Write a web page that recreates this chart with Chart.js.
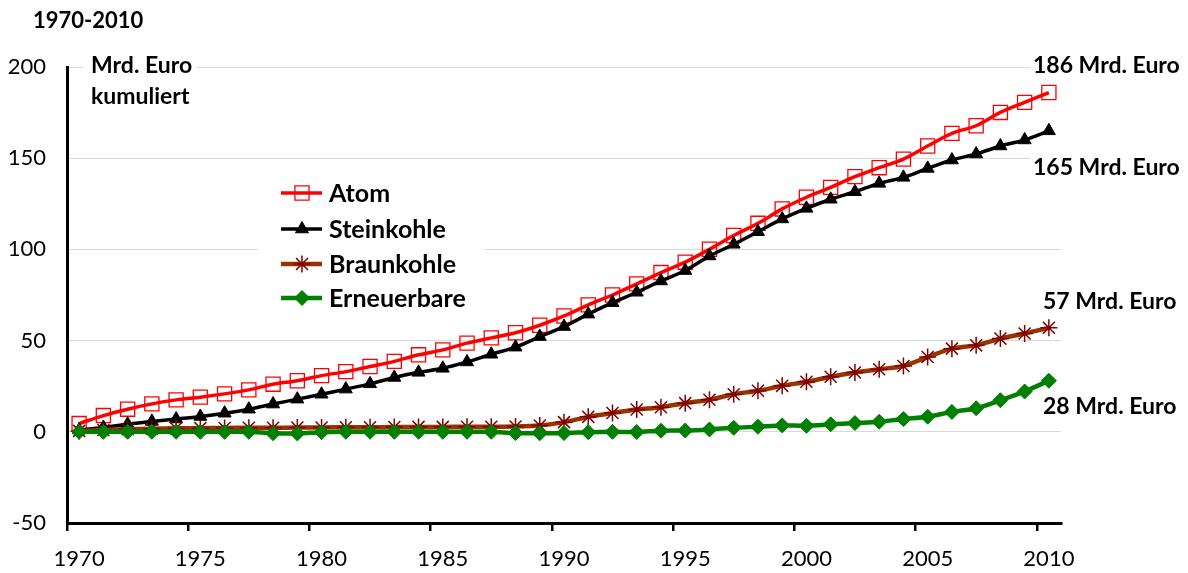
<!DOCTYPE html>
<html>
<head>
<meta charset="utf-8">
<script src="https://cdn.jsdelivr.net/npm/chart.js@4/dist/chart.umd.min.js"></script>
<style>
  body { margin: 0; background: #fff; }
  #wrap { width: 1188px; height: 573px; }
</style>
</head>
<body>
<div id="wrap"><canvas id="kosten-chart" width="1188" height="573"></canvas></div>
<script>
// Kumulierte Kosten 1970-2010, Mrd. Euro
var years = ['1970','1971','1972','1973','1974','1975','1976','1977','1978','1979',
  '1980','1981','1982','1983','1984','1985','1986','1987','1988','1989',
  '1990','1991','1992','1993','1994','1995','1996','1997','1998','1999',
  '2000','2001','2002','2003','2004','2005','2006','2007','2008','2009','2010'];

var atom = [4.5, 8.9, 12.4, 15.3, 17.5, 19.0, 20.8, 23.0, 26.1, 28.0,
  30.8, 33.0, 35.8, 38.6, 42.2, 44.9, 48.6, 51.5, 54.3, 58.4,
  63.5, 69.6, 75.0, 81.1, 87.3, 93.0, 100.1, 107.6, 114.3, 122.2,
  128.6, 134.0, 139.9, 144.8, 149.5, 156.7, 163.6, 167.8, 175.1, 180.6, 186];

var steinkohle = [1.0, 2.4, 4.2, 5.7, 7.0, 8.4, 10.2, 12.4, 15.2, 17.9,
  20.6, 23.4, 26.3, 29.8, 32.6, 34.8, 38.3, 42.5, 46.4, 52.2,
  57.7, 64.5, 70.8, 76.5, 82.7, 88.4, 96.4, 102.8, 109.7, 116.7,
  122.5, 127.5, 131.6, 136.2, 139.5, 144.4, 149.0, 152.3, 156.7, 160.0, 165];

var braunkohle = [0.5, 1.0, 1.4, 1.7, 1.9, 2.0, 2.1, 2.2, 2.2, 2.3,
  2.4, 2.5, 2.5, 2.6, 2.7, 2.7, 2.8, 2.8, 2.9, 3.5,
  5.3, 8.2, 10.3, 12.2, 13.5, 15.7, 17.6, 20.6, 22.5, 25.2,
  27.4, 30.2, 32.5, 34.3, 36.1, 41.0, 45.6, 47.4, 51.1, 53.9, 57];

var erneuerbare = [0, 0, 0, 0, 0, 0, 0, 0, -0.8, -0.9,
  -0.2, 0, 0, 0, 0, 0, 0, 0, -0.7, -0.8,
  -0.7, -0.2, 0, -0.1, 0.6, 0.7, 1.3, 2.2, 2.8, 3.5,
  3.3, 4.1, 4.8, 5.5, 7.0, 8.3, 10.9, 12.9, 17.3, 22.1, 28];

var yTicks = [-50, 0, 50, 100, 150, 200];

var FONT = 'Lato';

var endLabels = [
  { text: '186 Mrd. Euro', x: 1033, y: 66 },
  { text: '165 Mrd. Euro', x: 1033, y: 168 },
  { text: '57 Mrd. Euro', x: 1043, y: 302 },
  { text: '28 Mrd. Euro', x: 1043, y: 407 }
];

var overlay = {
  id: 'overlay',
  beforeDatasetsDraw: function (chart) {
    var ctx = chart.ctx;
    ctx.save();
    ctx.fillStyle = '#fff';
    ctx.fillRect(258, 176, 227, 140);   // legend box
    ctx.fillRect(83, 54, 114, 25);      // Mrd. Euro
    ctx.fillRect(1030, 54, 158, 25);
    ctx.fillRect(1030, 155, 158, 26);
    ctx.restore();
  },
  afterDraw: function (chart) {
    var ctx = chart.ctx;
    ctx.save();
    ctx.fillStyle = '#000';
    ctx.textBaseline = 'middle';
    ctx.textAlign = 'left';
    ctx.font = 'bold 22px ' + FONT;
    ctx.fillText('1970-2010', 33, 21);
    ctx.font = 'bold 23px ' + FONT;
    ctx.fillText('Mrd. Euro', 91, 66);
    ctx.fillText('kumuliert', 91, 97);
    endLabels.forEach(function (l) { ctx.fillText(l.text, l.x, l.y); });

    // legend
    var rows = [193, 229, 264, 298];
    chart.data.datasets.forEach(function (ds, i) {
      var y = rows[i];
      ctx.strokeStyle = ds.borderColor;
      ctx.lineWidth = ds.borderWidth;
      ctx.beginPath();
      ctx.moveTo(281, y);
      ctx.lineTo(322, y);
      ctx.stroke();
      ctx.fillStyle = ds.pointBackgroundColor;
      ctx.strokeStyle = ds.pointBorderColor;
      ctx.lineWidth = ds.pointBorderWidth;
      Chart.helpers.drawPoint(ctx, {
        pointStyle: ds.pointStyle,
        radius: ds.pointRadius,
        borderWidth: ds.pointBorderWidth,
        rotation: 0
      }, 302, y);
      ctx.fillStyle = '#000';
      ctx.font = 'bold 25px ' + FONT;
      ctx.fillText(ds.label, 329, y + 1);
    });
    ctx.restore();
  }
};

var ctx = document.getElementById('kosten-chart').getContext('2d');

new Chart(ctx, {
  type: 'line',
  data: {
    labels: years,
    datasets: [{
      label: 'Atom',
      data: atom,
      borderColor: '#ff0000',
      borderWidth: 3.5,
      pointStyle: 'rect',
      pointRadius: 10,
      pointBorderColor: '#ff0000',
      pointBorderWidth: 1.3,
      pointBackgroundColor: 'rgba(255,255,255,0)',
      order: 4
    }, {
      label: 'Steinkohle',
      data: steinkohle,
      borderColor: '#000000',
      borderWidth: 3.5,
      pointStyle: 'triangle',
      pointRadius: 7.5,
      pointBorderColor: '#000000',
      pointBorderWidth: 1,
      pointBackgroundColor: '#000000',
      order: 3
    }, {
      label: 'Braunkohle',
      data: braunkohle,
      borderColor: '#993300',
      borderWidth: 4.5,
      pointStyle: 'star',
      pointRadius: 8.5,
      pointBorderColor: '#800000',
      pointBorderWidth: 1.5,
      pointBackgroundColor: '#800000',
      order: 2
    }, {
      label: 'Erneuerbare',
      data: erneuerbare,
      borderColor: '#008000',
      borderWidth: 4.5,
      pointStyle: 'rectRot',
      pointRadius: 7.5,
      pointBorderColor: '#008000',
      pointBorderWidth: 1,
      pointBackgroundColor: '#008000',
      order: 1
    }]
  },
  options: {
    responsive: false,
    animation: false,
    tension: 0.3,
    layout: { padding: { left: 0, top: 67, right: 127, bottom: 0 } },
    plugins: {
      legend: { display: false },
      tooltip: { enabled: false }
    },
    scales: {
      x: {
        offset: true,
        afterFit: function (scale) { scale.height = 50; },
        border: { display: true, color: '#000', width: 3 },
        grid: {
          offset: true,
          drawOnChartArea: false,
          drawTicks: true,
          tickLength: 8,
          lineWidth: 2.5,
          color: function (c) { return c.index % 5 === 0 ? '#000' : 'rgba(0,0,0,0)'; }
        },
        ticks: {
          autoSkip: false,
          maxRotation: 0,
          padding: 15,
          color: '#000',
          font: { family: FONT, size: 22 },
          callback: function (val, i) { return i % 5 === 0 ? years[i] : ''; }
        }
      },
      y: {
        min: yTicks[0],
        max: yTicks[yTicks.length - 1],
        afterFit: function (scale) { scale.width = 67; },
        afterBuildTicks: function (scale) {
          scale.ticks = yTicks.map(function (v) { return { value: v }; });
        },
        border: { display: true, color: '#000', width: 3 },
        grid: {
          drawTicks: false,
          color: '#d9d9d9',
          lineWidth: 1
        },
        ticks: {
          padding: 21,
          color: '#000',
          font: { family: FONT, size: 22 }
        }
      }
    }
  },
  plugins: [overlay]
});
</script>
</body>
</html>
